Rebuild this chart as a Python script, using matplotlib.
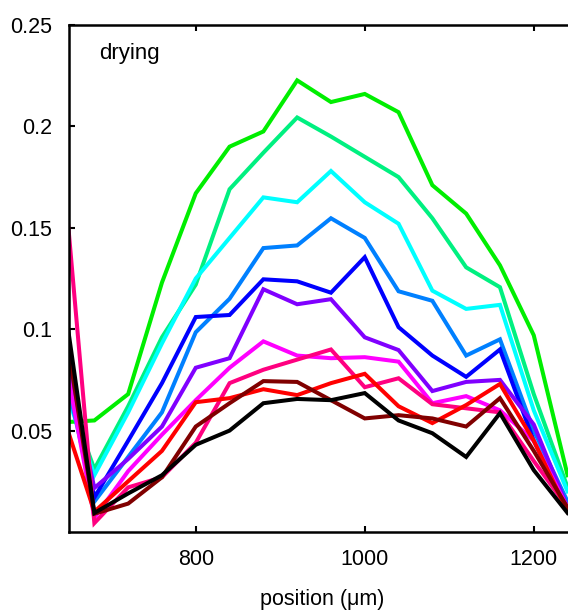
import matplotlib
matplotlib.use("Agg")
import matplotlib.pyplot as plt

plt.rcParams["font.family"] = ["Liberation Sans", "DejaVu Sans"]

# posiciones (um)
position = [640, 680, 720, 760, 800, 840, 880, 920, 960, 1000, 1040, 1080, 1120, 1160, 1200, 1240]

# perfiles durante el secado, del mas alto al mas bajo
green = [0.054, 0.055, 0.068, 0.123, 0.167, 0.190, 0.1975, 0.2227, 0.212, 0.216, 0.207, 0.171, 0.157, 0.1315, 0.097, 0.028]
spring = [0.077, 0.031, 0.062, 0.096, 0.122, 0.169, 0.187, 0.2044, 0.195, 0.185, 0.175, 0.1547, 0.1305, 0.1207, 0.068, 0.022]
cyan = [0.077, 0.028, 0.059, 0.093, 0.125, 0.145, 0.165, 0.1626, 0.178, 0.1626, 0.152, 0.119, 0.110, 0.112, 0.060, 0.020]
azure = [0.088, 0.015, 0.037, 0.059, 0.0985, 0.115, 0.140, 0.1413, 0.1547, 0.145, 0.1187, 0.114, 0.087, 0.095, 0.050, 0.015]
blue = [0.104, 0.017, 0.045, 0.0734, 0.106, 0.107, 0.1246, 0.1236, 0.118, 0.1355, 0.101, 0.087, 0.0765, 0.090, 0.045, 0.012]
purple = [0.097, 0.0217, 0.036, 0.052, 0.081, 0.0857, 0.1197, 0.1123, 0.1148, 0.096, 0.0897, 0.0695, 0.074, 0.075, 0.053, 0.012]
magenta = [0.097, 0.007, 0.030, 0.048, 0.065, 0.081, 0.094, 0.087, 0.0857, 0.0862, 0.084, 0.0635, 0.067, 0.060, 0.045, 0.012]
rose = [0.194, 0.0044, 0.022, 0.027, 0.044, 0.0734, 0.080, 0.085, 0.090, 0.0714, 0.0758, 0.063, 0.061, 0.059, 0.035, 0.012]
red = [0.061, 0.010, 0.025, 0.040, 0.064, 0.066, 0.0704, 0.0675, 0.0734, 0.078, 0.062, 0.0537, 0.0626, 0.073, 0.045, 0.010]
darkred = [0.115, 0.009, 0.014, 0.027, 0.052, 0.0635, 0.0744, 0.074, 0.065, 0.056, 0.0576, 0.056, 0.052, 0.066, 0.040, 0.012]
black = [0.126, 0.0094, 0.019, 0.028, 0.043, 0.050, 0.0635, 0.0656, 0.065, 0.0685, 0.055, 0.0487, 0.037, 0.0586, 0.0305, 0.0094]

series = [green, spring, cyan, azure, blue, purple, magenta, rose, red, darkred, black]
colors = ["#00ee00", "#00f080", "#00ffff", "#0080ff", "#0000ff", "#8000ff",
          "#ff00ff", "#ff0080", "#ff0000", "#800000", "#000000"]

fig = plt.figure(figsize=(5.68, 6.11), dpi=100)
ax = fig.add_axes([0.1215, 0.1293, 0.8926, 0.8298])

for vals, c in zip(series, colors):
    ax.plot(position, vals, color=c, lw=2.9, solid_joinstyle="miter")

ax.set_xlim(650, 1250)
ax.set_ylim(0, 0.25)
ax.set_xticks([800, 1000, 1200])
ax.set_yticks([0.05, 0.1, 0.15, 0.2, 0.25])
ax.set_yticklabels(["0.05", "0.1", "0.15", "0.2", "0.25"])
ax.tick_params(direction="in", length=4, width=1.5, labelsize=15.5, pad=12,
               top=True, right=False)
for s in ax.spines.values():
    s.set_linewidth(1.8)

ax.set_xlabel("position (μm)", fontsize=15.5, labelpad=14)
ax.text(0.06, 0.965, "drying", transform=ax.transAxes, fontsize=16, va="top")

fig.savefig("out.png", dpi=100)
